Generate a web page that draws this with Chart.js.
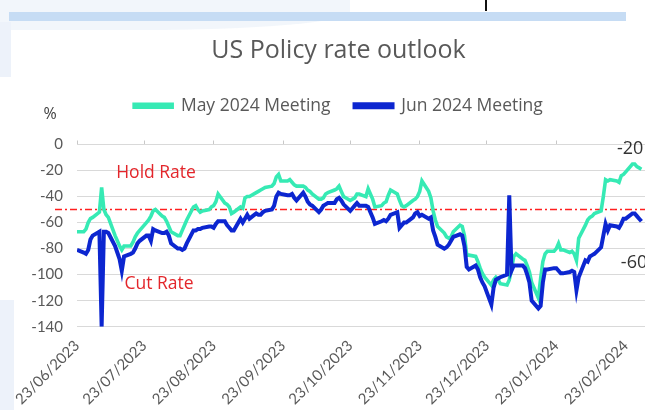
<!DOCTYPE html>
<html>
<head>
<meta charset="utf-8">
<script src="https://cdn.jsdelivr.net/npm/chart.js@4.4.1/dist/chart.umd.min.js"></script>
<style>
  html, body { margin: 0; padding: 0; background: #fff; overflow: hidden; }
  #wrap { position: relative; width: 645px; height: 410px; }
  .shade { position: absolute; background: #edf2fa; }
  .bar { position: absolute; left: 9px; top: 12px; width: 617px; height: 9px; background: #c6dcf4; }
  .mark { position: absolute; left: 485px; top: 0; width: 2px; height: 11px; background: #111; }
  canvas { position: absolute; left: 0; top: 0; }
</style>
</head>
<body>
<div id="wrap">
  <div class="shade" style="left:0;top:0;width:350px;height:30px;border-radius:0 0 60% 0;opacity:.7"></div>
  <div class="shade" style="left:0;top:22px;width:11px;height:55px"></div>
  <div class="shade" style="left:0;top:300px;width:14px;height:110px"></div>
  <div class="bar"></div>
  <div class="mark"></div>
  <canvas id="chart" width="645" height="410"></canvas>
</div>
<script>
// business days, implied market pricing (bp) for each meeting
const dates = [
  '2023-06-23','2023-06-26','2023-06-27','2023-06-28','2023-06-29','2023-06-30',
  '2023-07-03','2023-07-04','2023-07-05','2023-07-06','2023-07-07','2023-07-10','2023-07-11','2023-07-12','2023-07-13','2023-07-14',
  '2023-07-17','2023-07-18','2023-07-19','2023-07-20','2023-07-21','2023-07-24','2023-07-25','2023-07-26','2023-07-27','2023-07-28','2023-07-31',
  '2023-08-01','2023-08-02','2023-08-03','2023-08-04','2023-08-07','2023-08-08','2023-08-09','2023-08-10','2023-08-11','2023-08-14','2023-08-15',
  '2023-08-16','2023-08-17','2023-08-18','2023-08-21','2023-08-22','2023-08-23','2023-08-24','2023-08-25','2023-08-28','2023-08-29','2023-08-30','2023-08-31',
  '2023-09-01','2023-09-04','2023-09-05','2023-09-06','2023-09-07','2023-09-08','2023-09-11','2023-09-12','2023-09-13','2023-09-14','2023-09-15',
  '2023-09-18','2023-09-19','2023-09-20','2023-09-21','2023-09-22','2023-09-25','2023-09-26','2023-09-27','2023-09-28','2023-09-29',
  '2023-10-02','2023-10-03','2023-10-04','2023-10-05','2023-10-06','2023-10-09','2023-10-10','2023-10-11','2023-10-12','2023-10-13',
  '2023-10-16','2023-10-17','2023-10-18','2023-10-19','2023-10-20','2023-10-23','2023-10-24','2023-10-25','2023-10-26','2023-10-27','2023-10-30','2023-10-31',
  '2023-11-01','2023-11-02','2023-11-03','2023-11-06','2023-11-07','2023-11-08','2023-11-09','2023-11-10','2023-11-13','2023-11-14','2023-11-15',
  '2023-11-16','2023-11-17','2023-11-20','2023-11-21','2023-11-22','2023-11-23','2023-11-24','2023-11-27','2023-11-28','2023-11-29','2023-11-30',
  '2023-12-01','2023-12-04','2023-12-05','2023-12-06','2023-12-07','2023-12-08','2023-12-11','2023-12-12','2023-12-13','2023-12-14','2023-12-15',
  '2023-12-18','2023-12-19','2023-12-20','2023-12-21','2023-12-22','2023-12-25','2023-12-26','2023-12-27','2023-12-28','2023-12-29',
  '2024-01-01','2024-01-02','2024-01-03','2024-01-04','2024-01-05','2024-01-08','2024-01-09','2024-01-10','2024-01-11','2024-01-12',
  '2024-01-15','2024-01-16','2024-01-17','2024-01-18','2024-01-19','2024-01-22','2024-01-23','2024-01-24','2024-01-25','2024-01-26','2024-01-29','2024-01-30','2024-01-31',
  '2024-02-01','2024-02-02','2024-02-05','2024-02-06','2024-02-07','2024-02-08','2024-02-09','2024-02-12','2024-02-13','2024-02-14','2024-02-15','2024-02-16',
  '2024-02-19','2024-02-20','2024-02-21','2024-02-22','2024-02-23','2024-02-26','2024-02-27','2024-02-28','2024-02-29','2024-03-01'
];

const mayMeeting = [
  -67,-67,-65,-60,-57,-56,
  -52,-33,-50,-54,-56,-70,-74,-78,-81,-78,
  -78,-75,-71,-68,-66,-60,-58,-55,-51,-50,-55,
  -56,-59,-63,-67,-70,-70,-66,-62,-58,-48,-47,
  -50,-52,-51,-50,-48,-47,-44,-38,-45,-46,-48,-53,
  -52,-48,-49,-41,-40,-40,-37,-36,-35,-34,-33,
  -32,-30,-25,-23,-28,-28,-27,-29,-31,-32,
  -32,-33,-35,-36,-38,-42,-42,-41,-38,-37,
  -35,-34,-32,-36,-40,-43,-42,-41,-38,-38,-40,-34,
  -38,-42,-48,-47,-45,-44,-39,-35,-38,-43,-47,
  -48,-47,-43,-42,-40,-36,-28,-36,-41,-51,-58,
  -63,-68,-71,-72,-71,-67,-62,-63,-70,-85,-85,
  -86,-90,-95,-99,-102,-108,-104,-102,-104,-107,
  -108,-104,-96,-86,-84,-88,-89,-93,-98,-106,
  -118,-103,-90,-84,-82,-82,-80,-76,-81,-81,-83,-82,-84,
  -89,-72,-62,-58,-56,-55,-53,-51,-40,-27,-28,-27,
  -28,-29,-24,-23,-21,-15,-15,-17,-18,-19
];

const junMeeting = [
  -81,-83,-84,-81,-73,-70,
  -67,-140,-67,-67,-68,-78,-83,-88,-97,-86,
  -84,-83,-80,-76,-74,-70,-70,-74,-65,-66,-68,
  -68,-67,-70,-76,-80,-80,-81,-80,-76,-66,-66,
  -65,-65,-64,-63,-63,-64,-61,-59,-59,-62,-64,-66,
  -66,-57,-60,-57,-54,-57,-53,-54,-54,-52,-51,
  -50,-47,-40,-37,-38,-39,-39,-38,-41,-43,
  -37,-40,-44,-46,-47,-52,-50,-47,-46,-45,
  -45,-42,-41,-43,-46,-51,-49,-47,-45,-47,-47,-48,
  -52,-56,-61,-59,-58,-59,-57,-54,-52,-64,-62,
  -60,-60,-56,-53,-52,-55,-54,-57,-56,-66,-71,
  -77,-80,-79,-77,-74,-71,-69,-70,-78,-94,-96,
  -93,-96,-102,-106,-109,-123,-110,-104,-103,-102,
  -100,-39,-97,-93,-93,-93,-95,-100,-106,-120,
  -126,-124,-106,-96,-96,-95,-95,-97,-99,-99,-98,-97,-98,
  -112,-102,-89,-90,-86,-85,-84,-79,-70,-61,-66,-62,
  -63,-64,-61,-57,-57,-53,-53,-55,-57,-59
];

const tickLabels = ['23/06/2023','23/07/2023','23/08/2023','23/09/2023','23/10/2023',
  '23/11/2023','23/12/2023','23/01/2024','23/02/2024'];

const holdLevel = -50;
const endLabels = ['-20', '-60'];

const dayOf = s => (Date.parse(s) - Date.parse(dates[0])) / 864e5;
const tickDays = tickLabels.map(t => {
  const [d, m, y] = t.split('/');
  return dayOf(`${y}-${m}-${d}`);
});

const axisFont = { family: 'Lato', size: 15 };
const grey = '#595959';

// red dash-dot hold line
const holdLine = {
  id: 'holdLine',
  beforeDatasetsDraw(chart) {
    const { ctx, chartArea, scales } = chart;
    const y = scales.y.getPixelForValue(holdLevel);
    ctx.save();
    ctx.strokeStyle = '#ff1f1f';
    ctx.lineWidth = 1.6;
    ctx.setLineDash([7, 3, 2, 3]);
    ctx.beginPath();
    ctx.moveTo(chartArea.left - 22, y);
    ctx.lineTo(chartArea.right, y);
    ctx.stroke();
    ctx.restore();
  }
};

// text notes placed in data units
const notes = [
  { text: 'Hold Rate', day: 35.3, value: -22, color: '#e3262b', size: 17.5 },
  { text: 'Cut Rate', day: 36.6, value: -107.4, color: '#e3262b', size: 17.5 },
  { text: endLabels[0], day: 247, value: -3.6, color: '#333333', size: 18 },
  { text: endLabels[1], day: 248.7, value: -91, color: '#333333', size: 18 }
];

const noteText = {
  id: 'noteText',
  afterDatasetsDraw(chart) {
    const { ctx, chartArea, scales } = chart;
    ctx.save();
    ctx.textAlign = 'center';
    ctx.textBaseline = 'middle';
    notes.forEach(n => {
      ctx.fillStyle = n.color;
      ctx.font = `${n.size}px "Open Sans"`;
      ctx.fillText(n.text, scales.x.getPixelForValue(n.day), scales.y.getPixelForValue(n.value));
    });
    ctx.fillStyle = '#404040';
    ctx.font = '16px "Open Sans"';
    ctx.fillText('%', scales.y.left + 18, chartArea.top - 30);
    ctx.restore();
  }
};

const monthTicks = scale => { scale.ticks = tickDays.map(v => ({ value: v })); };

new Chart(document.getElementById('chart'), {
  type: 'line',
  data: {
    datasets: [
      {
        label: 'May 2024 Meeting',
        data: dates.map((d, i) => ({ x: dayOf(d), y: mayMeeting[i] })),
        borderColor: '#36eab4',
        backgroundColor: '#36eab4',
        borderWidth: 3.6,
        pointRadius: 0,
        order: 2
      },
      {
        label: 'Jun 2024 Meeting',
        data: dates.map((d, i) => ({ x: dayOf(d), y: junMeeting[i] })),
        borderColor: '#0c26d0',
        backgroundColor: '#0c26d0',
        borderWidth: 4,
        pointRadius: 0,
        order: 1
      }
    ]
  },
  plugins: [holdLine, noteText],
  options: {
    responsive: false,
    animation: false,
    devicePixelRatio: 1,
    layout: { padding: { left: 32, right: 0, top: 0, bottom: 0 } },
    plugins: {
      title: {
        display: true,
        text: 'US Policy rate outlook',
        color: grey,
        font: { family: 'Open Sans', size: 25, weight: 'normal' },
        padding: { top: 36, bottom: 7 }
      },
      legend: {
        display: true,
        position: 'top',
        labels: {
          color: grey,
          font: { family: 'Open Sans', size: 17.5 },
          boxWidth: 38,
          boxHeight: 3,
          padding: 24,
          sort: (a, b) => a.datasetIndex - b.datasetIndex
        }
      },
      tooltip: { enabled: false }
    },
    scales: {
      x: {
        type: 'linear',
        position: 'bottom',
        min: 0,
        max: 253.6,
        afterBuildTicks: monthTicks,
        afterFit: scale => { scale.height = 83.3; },
        grid: { display: false },
        border: { display: false },
        ticks: {
          autoSkip: false,
          maxRotation: 45,
          minRotation: 45,
          padding: 2,
          color: grey,
          font: axisFont,
          callback: (v, i) => tickLabels[i]
        }
      },
      xTop: {
        type: 'linear',
        position: 'top',
        min: 0,
        max: 253.6,
        afterBuildTicks: monthTicks,
        afterFit: scale => { scale.height = 20; },
        grid: { drawOnChartArea: false, tickLength: 4, color: '#c8c8c8' },
        border: { display: false },
        ticks: { display: false }
      },
      y: {
        min: -140,
        max: 0,
        afterFit: scale => { scale.width = 45; },
        grid: { color: '#d9d9d9', drawTicks: false },
        border: { display: false },
        ticks: { stepSize: 20, padding: 14, color: grey, font: axisFont }
      }
    }
  }
});
</script>
</body>
</html>
